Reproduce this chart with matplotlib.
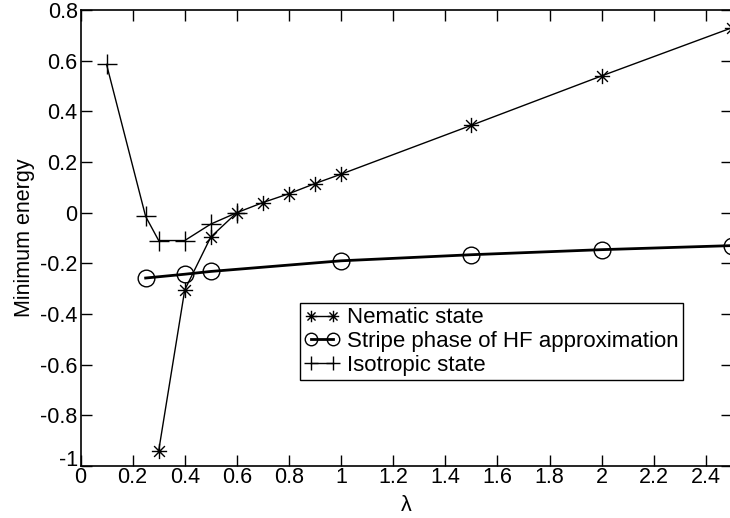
import numpy as np
import matplotlib.pyplot as plt
import matplotlib.transforms as mtransforms
from matplotlib.path import Path

plt.rcParams['font.family'] = ['Liberation Sans', 'DejaVu Sans']

# data
lam_nematic = [0.3, 0.4, 0.5, 0.6, 0.7, 0.8, 0.9, 1.0, 1.5, 2.0, 2.5]
e_nematic = [-0.94, -0.305, -0.096, 0.0, 0.04, 0.075, 0.115, 0.152, 0.345, 0.54, 0.73]

lam_stripe = [0.25, 0.4, 0.5, 1.0, 1.5, 2.0, 2.5]
e_stripe = [-0.258, -0.243, -0.232, -0.19, -0.166, -0.146, -0.13]

lam_iso = [0.1, 0.25, 0.3, 0.4, 0.5, 0.6]
e_iso = [0.585, -0.015, -0.11, -0.11, -0.045, 0.0]

xticks = np.arange(0, 2.41, 0.2)
yticks = np.arange(-1, 0.81, 0.2)

# 8-arm asterisk like the original
d = 0.7071
star = Path([(-1, 0), (1, 0), (0, -1), (0, 1), (-d, -d), (d, d), (-d, d), (d, -d)],
            [Path.MOVETO, Path.LINETO] * 4)

fig = plt.figure(figsize=(7.30, 5.18), dpi=100)
ax = fig.add_axes([80.5 / 730, 1 - 466 / 518, (732 - 80.5) / 730, 456 / 518])

ax.plot(lam_nematic, e_nematic, color='black', lw=1.0, marker=star, ms=11,
        mew=1.0, mfc='none', label='Nematic state')
ax.plot(lam_stripe, e_stripe, color='black', lw=2.0, marker='o', ms=12,
        mew=1.0, mfc='none', label='Stripe phase of HF approximation')
ax.plot(lam_iso, e_iso, color='black', lw=1.0, marker='+', ms=14,
        mew=1.0, label='Isotropic state')

ax.set_xlim(0, 2.5)
ax.set_ylim(-1, 0.8)
ax.set_xticks(xticks)
ax.set_xticklabels(['0', '0.2', '0.4', '0.6', '0.8', '1', '1.2', '1.4', '1.6',
                    '1.8', '2', '2.2', '2.4'])
ax.set_yticks(yticks)
ax.set_yticklabels(['-1', '-0.8', '-0.6', '-0.4', '-0.2', '0', '0.2', '0.4',
                    '0.6', '0.8'])
ax.tick_params(direction='in', length=8, width=1, top=True, right=True,
               labelsize=15.5)
ax.tick_params(axis='x', pad=1)
ax.tick_params(axis='y', pad=2)
for s in ax.spines.values():
    s.set_linewidth(1.2)

# nudge the "-1" up a bit so it doesn't sit on the "0"
lab = ax.get_yticklabels()[0]
lab.set_transform(lab.get_transform() +
                  mtransforms.ScaledTranslation(0, 6 / 72, fig.dpi_scale_trans))

ax.set_xlabel('λ', fontsize=15.5, labelpad=5)
ax.set_ylabel('Minimum energy', fontsize=15.5, labelpad=4)

leg = ax.legend(loc='upper left', bbox_to_anchor=(300 / 730, 1 - 303 / 518),
                bbox_transform=fig.transFigure, borderaxespad=0, fontsize=16,
                fancybox=False, edgecolor='black', framealpha=1, numpoints=2,
                handlelength=1.6, handletextpad=0.3, labelspacing=0.12,
                borderpad=0.2, markerscale=0.75)
leg.get_frame().set_linewidth(1.0)

fig.savefig('out.png', dpi=100)
